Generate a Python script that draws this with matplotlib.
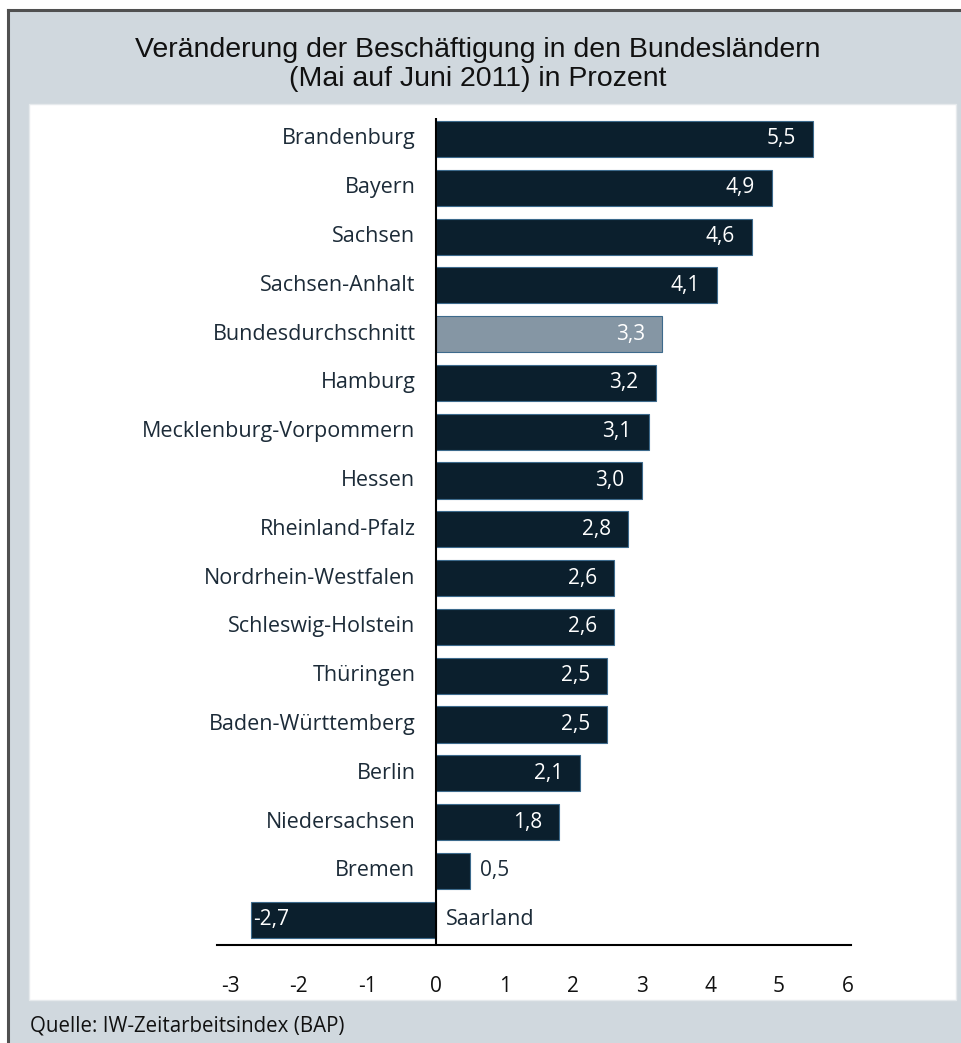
import matplotlib.pyplot as plt
from matplotlib.patches import Rectangle

# Daten
laender = ["Brandenburg", "Bayern", "Sachsen", "Sachsen-Anhalt", "Bundesdurchschnitt",
           "Hamburg", "Mecklenburg-Vorpommern", "Hessen", "Rheinland-Pfalz",
           "Nordrhein-Westfalen", "Schleswig-Holstein", "Thüringen",
           "Baden-Württemberg", "Berlin", "Niedersachsen", "Bremen", "Saarland"]
werte = [5.5, 4.9, 4.6, 4.1, 3.3, 3.2, 3.1, 3.0, 2.8, 2.6, 2.6, 2.5, 2.5, 2.1, 1.8, 0.5, -2.7]
x_ticks = [-3, -2, -1, 0, 1, 2, 3, 4, 5, 6]

dunkel = "#0b1f2d"
grau = "#8596a4"
text_farbe = "#1c2b38"
hintergrund = "#d0d8de"

W, H = 962, 1043
fig = plt.figure(figsize=(W / 100, H / 100), dpi=100)
fig.patch.set_facecolor("white")

# grauer Rahmen + weisses Feld
fig.patches.append(Rectangle((8 / W, 0), 1 - 8 / W, 1 - 10 / H, transform=fig.transFigure,
                             facecolor=hintergrund, edgecolor="none", zorder=-2))
fig.add_artist(plt.Line2D([8 / W, 1], [1 - 10 / H, 1 - 10 / H], transform=fig.transFigure,
                          color="#505050", lw=2.2, zorder=-1))
fig.add_artist(plt.Line2D([8 / W, 8 / W], [0, 1 - 10 / H], transform=fig.transFigure,
                          color="#505050", lw=2.2, zorder=-1))
fig.patches.append(Rectangle((29 / W, 1 - 1000 / H), (956 - 29) / W, (1000 - 104) / H,
                             transform=fig.transFigure, facecolor="white",
                             edgecolor="#e6eaed", lw=1, zorder=-1))

fig.text(478 / W, 1 - 50 / H, "Veränderung der Beschäftigung in den Bundesländern",
         ha="center", va="center", fontsize=20.5, family="Liberation Sans", color="#111111")
fig.text(478 / W, 1 - 79 / H, "(Mai auf Juni 2011) in Prozent",
         ha="center", va="center", fontsize=20.5, family="Liberation Sans", color="#111111")
fig.text(30 / W, 1 - 1026 / H, "Quelle: IW-Zeitarbeitsindex (BAP)",
         ha="left", va="center", fontsize=14.8, family="Open Sans", color="#111111")

ax = fig.add_axes([216.5 / W, 1 - 945 / H, (851 - 216.5) / W, (945 - 118) / H])
ax.patch.set_alpha(0)
y = list(range(len(laender)))
farben = [grau if l == "Bundesdurchschnitt" else dunkel for l in laender]
ax.barh(y, werte, height=0.74, color=farben, edgecolor="#3d6a8c", linewidth=0.8, zorder=2)

ax.set_xlim(-3.2, 6.05)
ax.set_ylim(16.52, -0.43)
ax.axvline(0, color="black", lw=1.5, zorder=3)

for s in ["left", "right", "top"]:
    ax.spines[s].set_visible(False)
ax.spines["bottom"].set_linewidth(1.5)
ax.set_yticks([])
ax.set_xticks(x_ticks)
ax.set_xticklabels([str(t) for t in x_ticks])
ax.tick_params(axis="x", length=0, pad=22, labelsize=15, labelcolor="#111111")
for lab in ax.get_xticklabels():
    lab.set_family("Open Sans")

for i, (name, v) in enumerate(zip(laender, werte)):
    txt = f"{v:.1f}".replace(".", ",")
    if v < 0:
        ax.text(0.14, i, name, ha="left", va="center", fontsize=15.5,
                family="Open Sans", color=text_farbe)
        ax.text(v + 0.03, i, txt, ha="left", va="center", fontsize=15,
                family="Open Sans", color="white", zorder=4)
    else:
        ax.text(-0.3, i, name, ha="right", va="center", fontsize=15.5,
                family="Open Sans", color=text_farbe)
        if v < 1:
            ax.text(v + 0.14, i, txt, ha="left", va="center", fontsize=15,
                    family="Open Sans", color=text_farbe)
        else:
            ax.text(v - 0.25, i, txt, ha="right", va="center", fontsize=15,
                    family="Open Sans", color="white", zorder=4)

fig.savefig("out.png", dpi=100, facecolor=fig.get_facecolor())
